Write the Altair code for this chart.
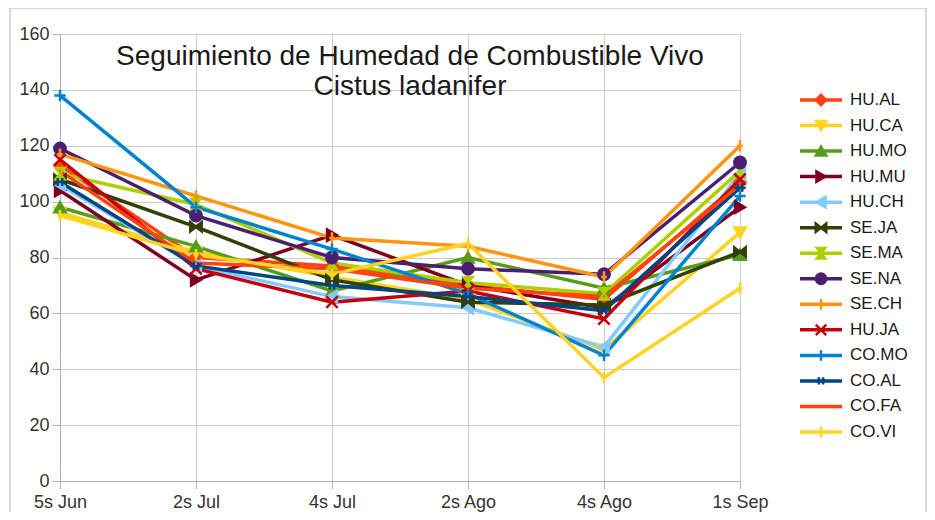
import altair as alt
import pandas as pd

weeks = ["5s Jun", "2s Jul", "4s Jul", "2s Ago", "4s Ago", "1s Sep"]

series = ["HU.AL", "HU.CA", "HU.MO", "HU.MU", "HU.CH", "SE.JA", "SE.MA",
          "SE.NA", "SE.CH", "HU.JA", "CO.MO", "CO.AL", "CO.FA", "CO.VI"]

hu_al = [113, 80, 77, 70, 65, 107]
hu_ca = [96, 82, 73, 65, 47, 89]
hu_mo = [98, 84, 68, 80, 69, 81]
hu_mu = [104, 72, 88, 70, 62, 98]
hu_ch = [106, 77, 66, 62, 48, 110]
se_ja = [108, 91, 72, 64, 63, 82]
se_ma = [110, 99, 78, 71, 67, 111]
se_na = [119, 95, 80, 76, 74, 114]
se_ch = [117, 102, 87, 84, 73, 120]
hu_ja = [115, 76, 64, 68, 58, 108]
co_mo = [138, 98, 83, 67, 45, 102]
co_al = [107, 77, 70, 66, 61, 105]
co_fa = [111, 78, 76, 69, 66, 106]
co_vi = [95, 81, 74, 85, 37, 69]

values = [hu_al, hu_ca, hu_mo, hu_mu, hu_ch, se_ja, se_ma,
          se_na, se_ch, hu_ja, co_mo, co_al, co_fa, co_vi]

colors = ["#ff420e", "#ffd320", "#579d1c", "#7e0021", "#83caff", "#314004",
          "#aecf00", "#4b1f6f", "#ff950e", "#c5000b", "#0084d1", "#004586",
          "#ff420e", "#ffd320"]

shapes = ["diamond", "triangle-down", "triangle-up", "triangle-right",
          "triangle-left",
          "M-1,-0.8L1,0.8L1,-0.8L-1,0.8Z",
          "M-0.8,-1L0.8,-1L-0.8,1L0.8,1Z",
          "circle",
          "M0,-1L0,1M-0.5,0L0.5,0",
          "M-1,-1L1,1M1,-1L-1,1",
          "M0,-1L0,1M-1,0L1,0",
          "M-1,0L1,0M-0.4,-0.7L-0.4,0.7M0.4,-0.7L0.4,0.7",
          "M-0.1,0L0.1,0",
          "M0,-1L0,1M-0.4,0L0.4,0"]

rows = []
for s, vals in zip(series, values):
    for w, v in zip(weeks, vals):
        rows.append({"series": s, "week": w, "value": v})
df = pd.DataFrame(rows)

leg = pd.DataFrame({"series": series, "idx": list(range(len(series)))})

FONT = "Liberation Sans"
color_scale = alt.Scale(domain=series, range=colors)
shape_scale = alt.Scale(domain=series, range=shapes)

x_enc = alt.X("week:N", sort=weeks,
              scale=alt.Scale(type="point", padding=0),
              axis=alt.Axis(title=None, labelAngle=0, grid=True,
                            gridColor="#cccccc", domainColor="#b3b3b3",
                            tickColor="#b3b3b3", tickSize=8, labelPadding=4,
                            labelFontSize=18, labelFont=FONT,
                            labelColor="#333333"))
y_scale = alt.Scale(domain=[0, 160], nice=False)
y_enc = alt.Y("value:Q", scale=y_scale,
              axis=alt.Axis(title=None, values=list(range(0, 161, 20)),
                            grid=True, gridColor="#cccccc",
                            domainColor="#b3b3b3", tickColor="#b3b3b3",
                            tickSize=8, labelPadding=3, labelFontSize=18,
                            labelFont=FONT, labelColor="#333333"))

lines = alt.Chart(df).mark_line(strokeWidth=3.5).encode(
    x=x_enc, y=y_enc,
    color=alt.Color("series:N", scale=color_scale, legend=None),
)

points = alt.Chart(df).mark_point(filled=True, size=130, strokeWidth=2.5,
                                  opacity=1).encode(
    x=x_enc, y=y_enc,
    color=alt.Color("series:N", scale=color_scale, legend=None),
    stroke=alt.Stroke("series:N", scale=color_scale, legend=None),
    shape=alt.Shape("series:N", scale=shape_scale, legend=None),
)

main = alt.layer(lines, points)

title = alt.Chart(pd.DataFrame({"t": [0]})).mark_text(
    text=["Seguimiento de Humedad de Combustible Vivo", "Cistus ladanifer"],
    fontSize=28, font=FONT, color="#1a1a1a", align="center",
    baseline="middle", lineHeight=30,
).encode(x=alt.value(350), y=alt.value(23))

ly = alt.Y("idx:Q", scale=alt.Scale(domain=[0, 13], range=[66, 398],
                                     nice=False, zero=False), axis=None)

leg_line = alt.Chart(leg).mark_rule(strokeWidth=3.5).encode(
    x=alt.value(740), x2=alt.value(782), y=ly,
    color=alt.Color("series:N", scale=color_scale, legend=None),
)
leg_pt = alt.Chart(leg).mark_point(filled=True, size=110, strokeWidth=2.5,
                                   opacity=1).encode(
    x=alt.value(761), y=ly,
    color=alt.Color("series:N", scale=color_scale, legend=None),
    stroke=alt.Stroke("series:N", scale=color_scale, legend=None),
    shape=alt.Shape("series:N", scale=shape_scale, legend=None),
)
leg_txt = alt.Chart(leg).mark_text(align="left", baseline="middle",
                                   fontSize=17, font=FONT,
                                   color="#1a1a1a").encode(
    x=alt.value(790), y=ly, text="series:N",
)
legend = alt.layer(leg_line, leg_pt, leg_txt)

frame = alt.Chart(pd.DataFrame({"t": [0]})).mark_rect(
    fill=None, stroke="#b3b3b3", strokeWidth=1
).encode(x=alt.value(-50), x2=alt.value(866), y=alt.value(-26),
         y2=alt.value(480))

chart = alt.layer(frame, main, title, legend).resolve_scale(
    y="independent"
).properties(
    width=680, height=447,
    padding={"left": 52, "top": 26, "right": 187, "bottom": 31},
    autosize=alt.AutoSizeParams(type="none"),
).configure_view(stroke=None).configure(background="white")

chart.save("out.html", embed_options={"renderer": "svg", "actions": False})
